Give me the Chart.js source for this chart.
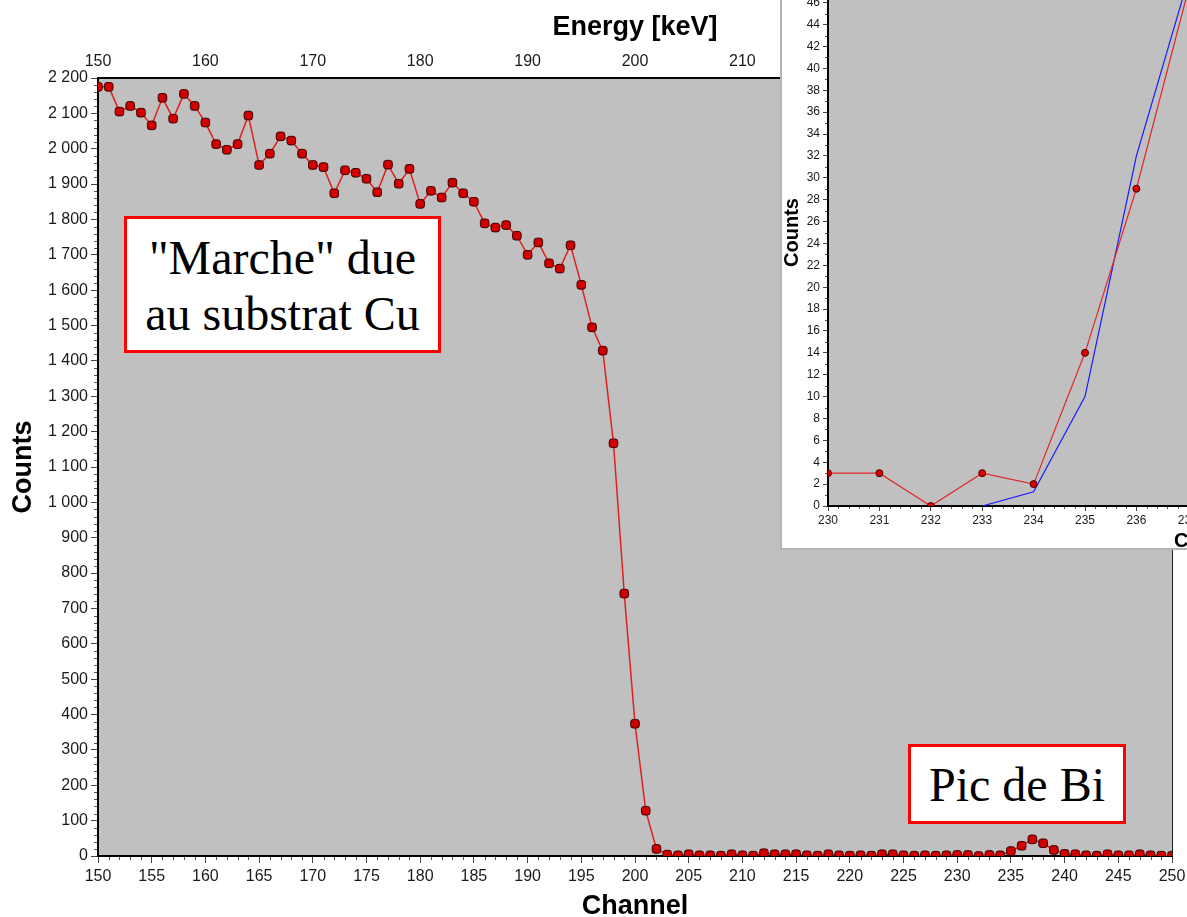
<!DOCTYPE html>
<html lang="fr">
<head>
<meta charset="utf-8">
<title>Spectre RBS - Bi sur Cu</title>
<script src="https://cdn.jsdelivr.net/npm/chart.js@4.4.1/dist/chart.umd.min.js"></script>
<style>
  html, body { margin: 0; padding: 0; background: #fff; overflow: hidden; }
  #page { position: relative; width: 1187px; height: 917px; overflow: hidden; }
  #mainChart { position: absolute; left: 0; top: 0; }
  #insetBox {
    position: absolute; left: 780px; top: -60px;
    width: 822px; height: 606px;
    border: 2px solid #b4b4b4; background: #fff; overflow: hidden;
  }
  #insetChart { display: block; }
  .note {
    position: absolute; box-sizing: border-box;
    border: 3px solid #ff0000; background: #fff; color: #000;
    font-family: "Liberation Serif", "Times New Roman", serif;
    font-size: 48px; line-height: 56px; text-align: center;
  }
</style>
</head>
<body>
<div id="page">
  <canvas id="mainChart" width="1187" height="917"></canvas>
  <div class="note" style="left:124px; top:216px; width:317px; height:137px; padding-top:11px;">"Marche" due<br>au substrat Cu</div>
  <div class="note" style="left:908px; top:744px; width:218px; height:80px; padding-top:10px;">Pic de Bi</div>
  <div id="insetBox"><canvas id="insetChart" width="822" height="606"></canvas></div>
</div>

<script>
// channel numbers 150..250
const channels = Array.from({ length: 101 }, (_, i) => 150 + i);

const counts = [
    2175, 2175, 2105, 2121, 2102, 2066, 2144, 2085, 2155, 2121,   // 150
    2074, 2013, 1997, 2013, 2094, 1954, 1986, 2035, 2023, 1986,   // 160
    1954, 1948, 1874, 1939, 1932, 1915, 1877, 1955, 1901, 1943,   // 170
    1844, 1881, 1862, 1904, 1874, 1850, 1789, 1777, 1784, 1754,   // 180
    1700, 1735, 1676, 1661, 1727, 1615, 1495, 1429, 1167, 742,    // 190
    374, 128, 20, 4, 2, 5, 2, 2, 1, 5,                            // 200
    2, 1, 8, 5, 5, 5, 2, 1, 5, 2,                                 // 210
    1, 2, 1, 5, 5, 2, 1, 2, 1, 2,                                 // 220
    3, 3, 0, 3, 2, 14, 29, 47, 36, 17,                            // 230
    6, 5, 2, 1, 5, 2, 2, 5, 2, 1,                                 // 240
    1                                                             // 250
];

// simulated Bi peak (blue curve in the zoom)
const fitChannels = [233, 234, 235, 236, 237];
const fitCounts = [0, 1.3, 10, 32, 48];

const insetFrom = 230;
const insetTo = 245;

const sans = '"Liberation Sans", Arial, sans-serif';

function spaced(v) {
    return String(v).replace(/\B(?=(\d{3})+(?!\d))/g, ' ');
}

function points(xs, ys) {
    return xs.map((x, i) => ({ x: x, y: ys[i] }));
}

// horizontal axes: fixed height, no extra room for the end labels
function fixHeight(h) {
    return s => {
        s.height = h;
        s.paddingLeft = 0;
        s.paddingRight = 0;
    };
}

// grey plot background, minor ticks, right edge
const plotFrame = {
    id: 'plotFrame',
    beforeDraw(chart) {
        const { ctx, chartArea: a } = chart;
        ctx.save();
        ctx.fillStyle = '#c0c0c0';
        ctx.fillRect(a.left, a.top, a.right - a.left, a.bottom - a.top);
        ctx.restore();
    },
    afterDraw(chart, args, opts) {
        const { ctx, chartArea: a, scales } = chart;
        ctx.save();
        ctx.strokeStyle = '#555';
        ctx.lineWidth = 1;
        ctx.beginPath();

        const xs = scales.x;
        const nx = Math.round((xs.max - xs.min) / opts.xMinor);
        for (let i = 0; i <= nx; i++) {
            const v = xs.min + i * opts.xMinor;
            const r = v / opts.xMajor;
            if (Math.abs(r - Math.round(r)) < 1e-6) continue;
            const px = Math.round(xs.getPixelForValue(v)) + 0.5;
            ctx.moveTo(px, a.bottom + 1);
            ctx.lineTo(px, a.bottom + 1 + opts.len);
        }

        const ys = scales.y;
        const ny = Math.round((ys.max - ys.min) / opts.yMinor);
        for (let i = 0; i <= ny; i++) {
            const v = ys.min + i * opts.yMinor;
            const r = v / opts.yMajor;
            if (Math.abs(r - Math.round(r)) < 1e-6) continue;
            const py = Math.round(ys.getPixelForValue(v)) + 0.5;
            ctx.moveTo(a.left - 1 - opts.len, py);
            ctx.lineTo(a.left - 1, py);
        }
        ctx.stroke();

        if (opts.rightEdge) {
            ctx.strokeStyle = '#222';
            ctx.beginPath();
            ctx.moveTo(a.right + 0.5, a.top);
            ctx.lineTo(a.right + 0.5, a.bottom);
            ctx.stroke();
        }
        ctx.restore();
    }
};

document.addEventListener('DOMContentLoaded', () => {
    const tickFont = { family: sans, size: 16 };
    const titleFont = { family: sans, size: 27, weight: 'bold', lineHeight: 1 };

    // full spectrum
    new Chart(document.getElementById('mainChart'), {
        type: 'line',
        data: {
            datasets: [{
                data: points(channels, counts),
                borderColor: '#e02020',
                borderWidth: 1.5,
                pointStyle: 'rectRounded',
                pointRadius: 5,
                pointBackgroundColor: '#d00000',
                pointBorderColor: '#3a0000',
                pointBorderWidth: 1,
                tension: 0
            }]
        },
        options: {
            responsive: false,
            animation: false,
            events: [],
            layout: { padding: { left: 0, right: 15, top: 0, bottom: 0 } },
            plugins: {
                legend: { display: false },
                tooltip: { enabled: false },
                plotFrame: { xMinor: 1, xMajor: 5, yMinor: 20, yMajor: 100, len: 3, rightEdge: true }
            },
            scales: {
                x: {
                    type: 'linear', position: 'bottom', min: 150, max: 250,
                    ticks: { stepSize: 5, font: tickFont, color: '#1a1a1a', padding: 4, maxRotation: 0, autoSkip: false },
                    grid: { drawOnChartArea: false, tickLength: 7, tickColor: '#444' },
                    border: { color: '#000', width: 2 },
                    title: { display: true, text: 'Channel', font: titleFont, color: '#000', padding: { top: 0, bottom: -3 } },
                    afterFit: fixHeight(61)
                },
                energy: {
                    axis: 'x', type: 'linear', position: 'top', min: 150, max: 250,
                    ticks: { stepSize: 10, font: tickFont, color: '#1a1a1a', padding: 7, maxRotation: 0, autoSkip: false },
                    grid: { drawOnChartArea: false, drawTicks: false },
                    border: { color: '#000', width: 2 },
                    title: { display: true, text: 'Energy [keV]', font: titleFont, color: '#000', padding: { top: 14, bottom: 0 } },
                    afterFit: fixHeight(78)
                },
                y: {
                    min: 0, max: 2200,
                    ticks: { stepSize: 100, font: tickFont, color: '#1a1a1a', padding: 3, callback: v => spaced(v) },
                    grid: { drawOnChartArea: false, tickLength: 7, tickColor: '#444' },
                    border: { color: '#000', width: 2 },
                    title: { display: true, text: 'Counts', font: titleFont, color: '#000', padding: { top: 10, bottom: 0 } },
                    afterFit: s => { s.width = 98; }
                }
            }
        },
        plugins: [plotFrame]
    });

    // zoom on the Bi peak
    const insetTick = { family: sans, size: 12 };
    const insetTitle = { family: sans, size: 20, weight: 'bold', lineHeight: 1 };
    const zoomCh = channels.filter(c => c >= insetFrom && c <= insetTo);
    const zoomCounts = counts.filter((_, i) => channels[i] >= insetFrom && channels[i] <= insetTo);

    new Chart(document.getElementById('insetChart'), {
        type: 'line',
        data: {
            datasets: [{
                data: points(zoomCh, zoomCounts),
                borderColor: '#e02828',
                borderWidth: 1.2,
                pointStyle: 'circle',
                pointRadius: 3.5,
                pointBackgroundColor: '#e00000',
                pointBorderColor: '#400000',
                pointBorderWidth: 1,
                tension: 0
            }, {
                data: points(fitChannels, fitCounts),
                borderColor: '#1a1aff',
                borderWidth: 1.2,
                pointRadius: 0,
                tension: 0
            }]
        },
        options: {
            responsive: false,
            animation: false,
            events: [],
            layout: { padding: { left: 0, right: 5, top: 17, bottom: 0 } },
            plugins: {
                legend: { display: false },
                tooltip: { enabled: false },
                plotFrame: { xMinor: 0.2, xMajor: 1, yMinor: 1, yMajor: 2, len: 2, rightEdge: false }
            },
            scales: {
                x: {
                    type: 'linear', position: 'bottom', min: insetFrom, max: insetTo,
                    ticks: { stepSize: 1, font: insetTick, color: '#1a1a1a', padding: 2, maxRotation: 0, autoSkip: false },
                    grid: { drawOnChartArea: false, tickLength: 5, tickColor: '#444' },
                    border: { color: '#000', width: 2 },
                    title: { display: true, text: 'Channel', font: insetTitle, color: '#000', padding: { top: 0, bottom: -3 } },
                    afterFit: fixHeight(42)
                },
                y: {
                    min: 0, max: 50,
                    ticks: { stepSize: 2, font: insetTick, color: '#1a1a1a', padding: 3, autoSkip: false },
                    grid: { drawOnChartArea: false, tickLength: 5, tickColor: '#444' },
                    border: { color: '#000', width: 2 },
                    title: { display: true, text: 'Counts', font: insetTitle, color: '#000', padding: { top: 0, bottom: 0 } },
                    afterFit: s => { s.width = 46; }
                }
            }
        },
        plugins: [plotFrame]
    });
});
</script>
</body>
</html>
